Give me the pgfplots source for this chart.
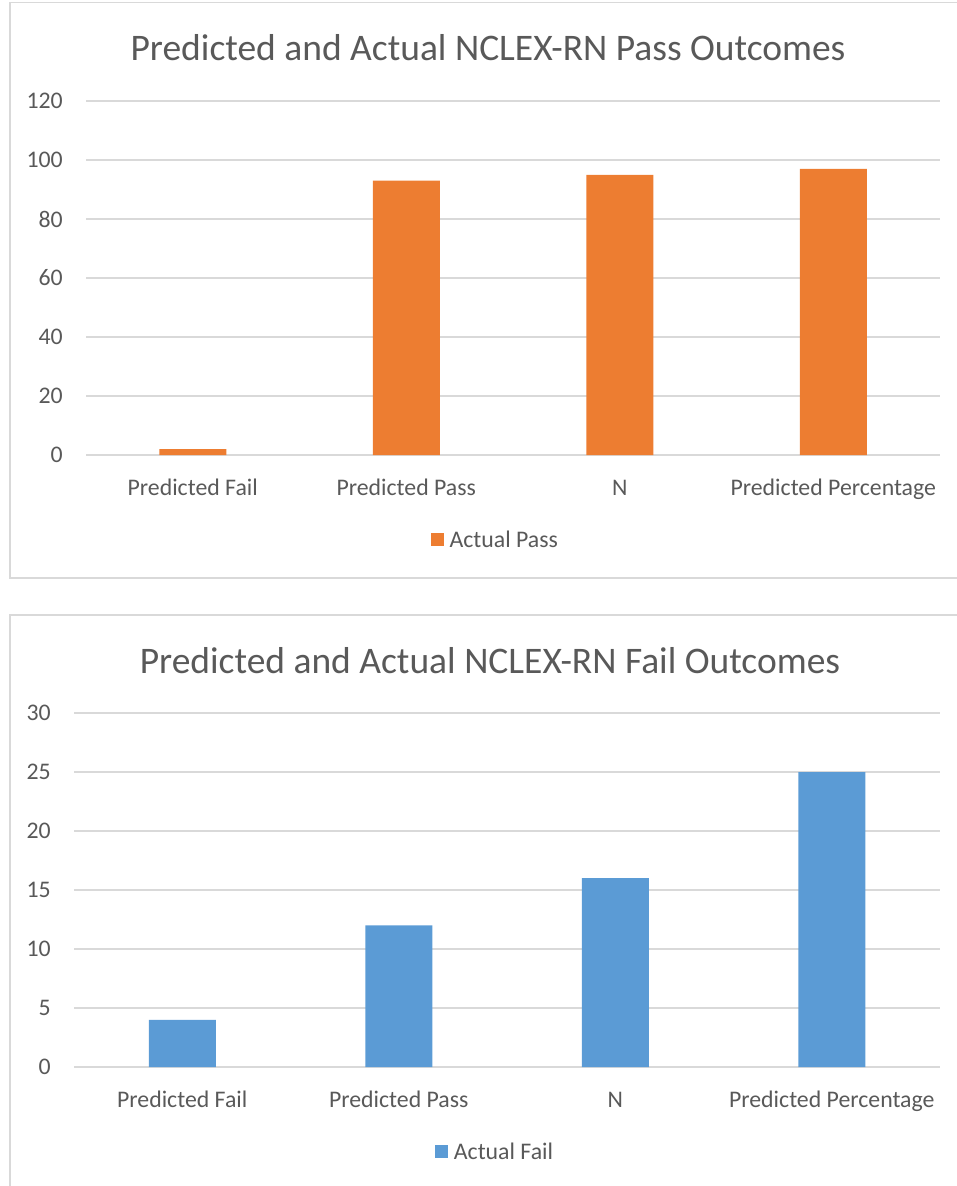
\documentclass[border=0pt]{standalone}
\usepackage{pgfplots}
\pgfplotsset{compat=1.18}
\usepackage{fontspec}
\setmainfont{Carlito}
\definecolor{txt}{HTML}{595959}
\definecolor{gridc}{HTML}{D9D9D9}
\definecolor{orng}{HTML}{ED7D31}
\definecolor{blu}{HTML}{5B9BD5}
\pgfplotsset{
  mystyle/.style={
    scale only axis,
    height=354pt,
    xmin=-0.5, xmax=3.5, ymin=0,
    axis line style={draw=none},
    major tick length=0pt,
    ymajorgrids,
    grid style={draw=gridc, line width=1.5pt},
    xtick={0,1,2,3},
    xticklabels={Predicted Fail,Predicted Pass,N,Predicted Percentage},
    /pgf/number format/assume math mode=true,
    tick label style={font=\fontsize{23.8}{28}\selectfont, text=txt, inner sep=0pt},
    xticklabel style={anchor=base, yshift=-40pt},
    yticklabel style={anchor=east, xshift=-23pt},
    ybar, bar width=67pt, bar shift=0pt,
    legend style={draw=none, fill=none, font=\fontsize{23.8}{28}\selectfont, text=txt, anchor=center,
      legend cell align=left, inner sep=0pt, nodes={inner sep=0pt},
      /tikz/every odd column/.style={column sep=6pt}},
    legend image code/.code={\fill[#1] (0pt,-6.5pt) rectangle (13pt,6.5pt);},
  }
}
\begin{document}
\begin{tikzpicture}[x=1pt,y=1pt]
\path[use as bounding box] (0,0) rectangle (956,-1186);
% frames
\draw[gridc, line width=1.5pt] (960,-2.5) -- (10,-2.5) -- (10,-578) -- (960,-578);
\draw[gridc, line width=1.5pt] (960,-615) -- (10,-615) -- (10,-1190);
% top chart
\begin{axis}[mystyle,
  at={(86pt,-455pt)}, anchor=south west, width=854pt,
  ymax=120, ytick={0,20,...,120},
  legend style={at={(0.478,-0.240)}},
]
\addplot[fill=orng, draw=none] coordinates {(0,2) (1,93) (2,95) (3,97)};
\addlegendentry{Actual Pass}
\end{axis}
\node[text=txt, font=\fontsize{37.5}{44}\selectfont, anchor=base] at (488,-60) {Predicted and Actual NCLEX-RN Pass Outcomes};
% bottom chart
\begin{axis}[mystyle,
  at={(74pt,-1067pt)}, anchor=south west, width=866pt,
  ymax=30, ytick={0,5,...,30},
  legend style={at={(0.485,-0.240)}},
]
\addplot[fill=blu, draw=none] coordinates {(0,4) (1,12) (2,16) (3,25)};
\addlegendentry{Actual Fail}
\end{axis}
\node[text=txt, font=\fontsize{37.5}{44}\selectfont, anchor=base] at (490,-673) {Predicted and Actual NCLEX-RN Fail Outcomes};
\end{tikzpicture}
\end{document}
